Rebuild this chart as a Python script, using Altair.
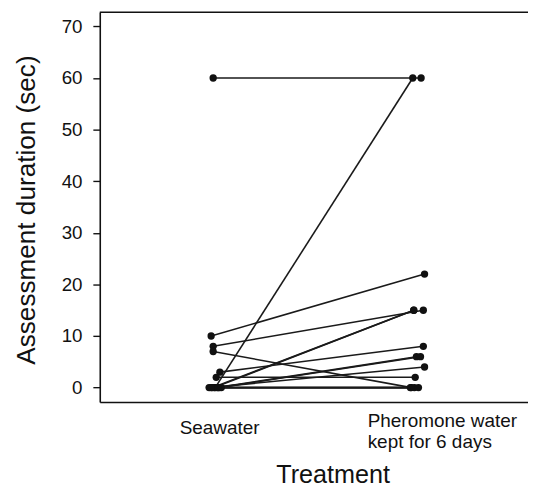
import altair as alt
import pandas as pd

# ---- data ----
subjects = list(range(1, 16))
seawater = [60, 0, 10, 8, 0, 0, 7, 3, 2, 0, 0, 0, 0, 0, 0]
pheromone = [60, 60, 22, 15, 15, 15, 0, 8, 2, 6, 6, 4, 0, 0, 0]
# horizontal jitter of each dot around its treatment position (data units)
sea_jitter = [-0.01, 0.0, -0.02, -0.01, -0.015, -0.005, -0.01, 0.023, 0.005, 0.01, 0.02, -0.03, 0.03, -0.02, 0.015]
pher_jitter = [0.013, -0.028, 0.03, 0.024, -0.023, -0.023, -0.035, 0.024, -0.016, -0.01, 0.01, 0.03, -0.04, -0.02, 0.0]
treatment_pos = [1, 2]
treatment_labels = ["Seawater", "Pheromone water\nkept for 6 days"]
y_ticks = [0, 10, 20, 30, 40, 50, 60, 70]

rows = []
for s, a, b, ja, jb in zip(subjects, seawater, pheromone, sea_jitter, pher_jitter):
    rows.append({"subject": s, "x": treatment_pos[0] + ja, "y": a})
    rows.append({"subject": s, "x": treatment_pos[1] + jb, "y": b})
df = pd.DataFrame(rows)

FONT = "Liberation Sans"
W, H = 434, 395

xscale = alt.Scale(domain=[0.432, 2.539], nice=False, zero=False)
yscale = alt.Scale(domain=[-2.78, 72.75], nice=False, zero=False)

x_axis = alt.Axis(
    values=treatment_pos,
    labelExpr="datum.value == 1 ? 'Seawater' : ['Pheromone water', 'kept for 6 days']",
    ticks=False, tickSize=0, grid=False,
    domainColor="#111", domainWidth=1.6,
    labelFont=FONT, labelFontSize=19.2, labelColor="#111",
    labelBaseline="middle", labelLineHeight=21,
    labelPadding=alt.condition("datum.value == 2", alt.value(19), alt.value(26)),
    labelAlign=alt.condition("datum.value == 2", alt.value("left"), alt.value("center")),
    labelOffset=alt.condition("datum.value == 2", alt.value(-52), alt.value(4)),
    title="Treatment", titleFont=FONT, titleFontSize=25.5, titleFontWeight="normal",
    titleColor="#111", titleX=236, titleY=82, titleBaseline="alphabetic", titleAnchor="middle",
    titleAlign="center",
)

y_axis = alt.Axis(
    values=y_ticks, grid=False,
    domainColor="#111", domainWidth=1.6,
    tickColor="#111", tickWidth=1.4, tickSize=7,
    labelFont=FONT, labelFontSize=19, labelColor="#111", labelPadding=11,
    title="Assessment duration (sec)", titleFont=FONT, titleFontSize=26.5,
    titleFontWeight="normal", titleColor="#111",
    titleX=-66, titleY=200, titleAngle=270, titleBaseline="alphabetic", titleAlign="center",
)

base = alt.Chart(df)

lines = base.mark_line(color="#1a1a1a", strokeWidth=1.6).encode(
    x=alt.X("x:Q", scale=xscale, axis=x_axis),
    y=alt.Y("y:Q", scale=yscale, axis=y_axis),
    detail="subject:N",
)

points = base.mark_circle(color="#111", opacity=1, size=55).encode(
    x=alt.X("x:Q", scale=xscale),
    y=alt.Y("y:Q", scale=yscale),
)

top_line = alt.Chart(pd.DataFrame({"a": [0]})).mark_rule(color="#111", strokeWidth=1.6).encode(
    x=alt.value(0), x2=alt.value(W), y=alt.value(0)
)

chart = alt.layer(lines, points, top_line).properties(
    width=W, height=H,
    autosize=alt.AutoSizeParams(type="none"),
    padding={"left": 93, "top": 1, "right": 0, "bottom": 90},
).configure_view(stroke=None)

chart.save("out.html", embed_options={"renderer": "svg", "actions": False})
